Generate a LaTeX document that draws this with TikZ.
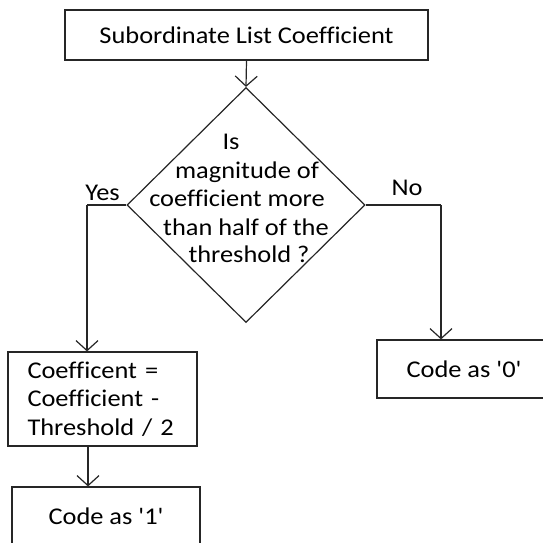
\documentclass[tikz,border=0pt]{standalone}
\usepackage{fontspec}
\setmainfont{Carlito}[FakeStretch=1.1, Ligatures={TeXOff,NoCommon}]
\usetikzlibrary{arrows.meta,shapes.geometric}
\begin{document}
\begin{tikzpicture}[x=1pt,y=-1pt,
  every node/.style={font=\fontsize{24}{28.5}\selectfont, text=black},
  boxstyle/.style={draw=black!85, line width=1.2pt, rectangle, inner sep=0pt},
  flow/.style={draw=black!85, line width=1.2pt, -{Straight Barb[length=10pt,width=22pt,line width=1.2pt]}},
  plain/.style={draw=black!85, line width=1.2pt},
  lbl/.style={anchor=base, inner sep=0pt}]
\useasboundingbox (0,0) rectangle (543,542);
% boxes
\node[boxstyle, minimum width=363pt, minimum height=50pt] (top) at (246.5,35) {Subordinate List Coefficient\hspace{10pt}};
\node[draw=black!85, line width=1.2pt, diamond, minimum width=238pt, minimum height=235pt, inner sep=0pt] (dec) at (246,205) {};
\node[boxstyle, minimum width=189pt, minimum height=94pt, text width=150pt, align=left] (calc) at (102.5,399) {Coefficent =\\Coefficient -\\Threshold / 2};
\node[boxstyle, minimum width=174pt, minimum height=58pt] (zero) at (464,369) {Code as '0'};
\node[boxstyle, minimum width=188pt, minimum height=58pt] (one) at (106,516) {Code as '1'};
% diamond text
\node[lbl] (q1) at (231,149) {Is};
\node[lbl] (q2) at (247,178) {magnitude of};
\node[lbl] (q3) at (237,206) {coefficient more};
\node[lbl] (q4) at (246,235) {than half of the};
\node[lbl] (q5) at (249,262) {threshold ?};
% branch labels
\node[lbl] (yes) at (102.5,200) {Yes};
\node[lbl] (no) at (407,195) {No};
% connectors
\coordinate (ycorner) at (87,205);
\coordinate (ncorner) at (441,205);
\coordinate (cdown) at (88,446);
\draw[flow] (top.south) -- (dec.north);
\draw[plain] (dec.west) -- (ycorner);
\draw[flow] (ycorner) -- (ycorner |- calc.north);
\draw[plain] (dec.east) -- (ncorner);
\draw[flow] (ncorner) -- (ncorner |- zero.north);
\draw[flow] (cdown |- calc.south) -- (cdown |- one.north);
\end{tikzpicture}
\end{document}
